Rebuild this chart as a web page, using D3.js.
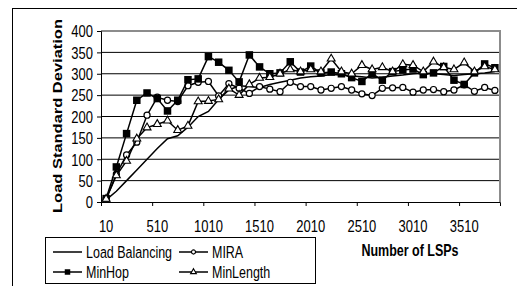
<!DOCTYPE html>
<html>
<head>
<meta charset="utf-8">
<script src="https://cdn.jsdelivr.net/npm/d3@7"></script>
<style>
  body { margin: 0; background: #fff; }
  svg { display: block; font-family: "Liberation Sans", Arial, sans-serif; }
</style>
</head>
<body>
<svg id="chart" width="517" height="286"></svg>
<script>
// data
var categories = [10, 110, 210, 310, 410, 510, 610, 710, 810, 910, 1010, 1110, 1210, 1310, 1410, 1510,
  1610, 1710, 1810, 1910, 2010, 2110, 2210, 2310, 2410, 2510, 2610, 2710, 2810, 2910, 3010, 3110,
  3210, 3310, 3410, 3510, 3610, 3710, 3810];
var xTickLabels = ["10", "510", "1010", "1510", "2010", "2510", "3010", "3510"];
var yTicks = [0, 50, 100, 150, 200, 250, 300, 350, 400];

var loadBalancing = [5, 25, 50, 75, 100, 125, 148, 155, 175, 200, 212, 240, 262, 272, 270, 268, 275, 280,
  285, 290, 293, 295, 298, 297, 295, 293, 290, 292, 295, 297, 300, 302, 300, 298, 296, 298, 300, 302, 305];
var mira = [7, 65, 110, 140, 203, 245, 238, 235, 272, 280, 282, 248, 277, 266, 254, 270, 264, 258, 280,
  270, 270, 262, 266, 270, 262, 253, 249, 266, 267, 268, 257, 262, 263, 258, 262, 274, 259, 268, 261];
var minHop = [8, 82, 160, 238, 255, 242, 213, 238, 286, 288, 340, 327, 308, 281, 344, 316, 300, 302, 328,
  304, 318, 302, 304, 300, 291, 282, 300, 285, 305, 309, 311, 298, 302, 317, 285, 275, 302, 323, 314];
var minLength = [7, 62, 96, 148, 174, 182, 190, 168, 178, 235, 236, 240, 265, 250, 275, 290, 292, 300, 310,
  305, 310, 305, 335, 305, 300, 320, 310, 315, 305, 322, 320, 305, 328, 315, 310, 326, 305, 317, 310];

var series = [
  {name: "Load Balancing", values: loadBalancing, marker: "none"},
  {name: "MIRA", values: mira, marker: "circle"},
  {name: "MinHop", values: minHop, marker: "square"},
  {name: "MinLength", values: minLength, marker: "triangle"}
];

var svg = d3.select("#chart");
var plotLeft = 101, plotRight = 500, plotTop = 31, plotBottom = 202;
var stretch = 1.25; // text in the picture is drawn a bit tall

var x = d3.scaleBand().domain(categories).range([plotLeft, plotRight]);
var xi = d3.scaleLinear().domain([0, categories.length]).range([plotLeft, plotRight]);
var y = d3.scaleLinear().domain([0, 400]).range([plotBottom, plotTop]);

// outer frame
svg.append("rect")
  .attr("x", 12.5).attr("y", 8.5).attr("width", 540).attr("height", 300)
  .attr("fill", "none").attr("stroke", "#000");

// gridlines
svg.append("g").selectAll("line")
  .data(yTicks.slice(1))
  .enter().append("line")
  .attr("x1", plotLeft).attr("x2", plotRight)
  .attr("y1", d => y(d)).attr("y2", d => y(d))
  .attr("stroke", "#000").attr("stroke-width", 1);

// plot area border, top and right are grey
svg.append("path")
  .attr("d", "M" + plotLeft + "," + plotTop + "H" + plotRight + "V" + plotBottom)
  .attr("fill", "none").attr("stroke", "#8c8c8c").attr("stroke-width", 2);

// y axis
var gy = svg.append("g")
  .attr("transform", "translate(" + plotLeft + ",0)")
  .call(d3.axisLeft(y).tickValues(yTicks).tickSize(4).tickPadding(4).tickFormat(d3.format("d")));
gy.select(".domain").attr("stroke", "#000");
gy.selectAll("text")
  .attr("font-size", 13).attr("font-family", null).attr("fill", "#000")
  .attr("dy", "0.36em")
  .attr("transform", "scale(1," + stretch + ")");

// x axis: tick marks on category boundaries, labels on category centres
var gx = svg.append("g")
  .attr("transform", "translate(0," + plotBottom + ")")
  .call(d3.axisBottom(xi).tickValues([0, 5, 10, 15, 20, 25, 30, 35]).tickSize(4).tickFormat(""));
gx.select(".domain").attr("stroke", "#000");

var gxl = svg.append("g")
  .attr("transform", "translate(0," + plotBottom + ")")
  .call(d3.axisBottom(x)
    .tickValues(categories.filter((c, i) => i % 5 === 0))
    .tickSize(0)
    .tickFormat((c, i) => xTickLabels[i]));
gxl.select(".domain").remove();
gxl.selectAll("text")
  .attr("font-size", 13).attr("font-family", null).attr("fill", "#000")
  .attr("y", 23.8).attr("dy", 0)
  .attr("transform", "scale(1," + stretch + ")");

// axis titles
var yTitle = svg.append("text")
  .attr("text-anchor", "middle")
  .attr("font-size", 13).attr("font-weight", "bold")
  .text("Load Standard Deviation");
// stretch the title so it runs from y=19 to y=213 like the picture
var yTitleLen = yTitle.node().getComputedTextLength();
yTitle.attr("transform", "translate(62,116) scale(1," + (194 / yTitleLen) + ") rotate(-90)");

svg.append("text")
  .attr("transform", "translate(410,256) scale(1," + stretch + ")")
  .attr("text-anchor", "middle")
  .attr("font-size", 12.5).attr("font-weight", "bold")
  .text("Number of LSPs");

// lines and markers
var line = d3.line()
  .x((d, i) => x(categories[i]) + x.bandwidth() / 2)
  .y(d => y(d));

function drawMarker(g, type, size) {
  if (type === "square") {
    g.append("rect")
      .attr("x", -size / 2).attr("y", -size / 2).attr("width", size).attr("height", size)
      .attr("fill", "#000");
  } else if (type === "circle") {
    g.append("circle").attr("r", size / 2 - 0.7)
      .attr("fill", "#fff").attr("stroke", "#000").attr("stroke-width", 1.2);
  } else if (type === "triangle") {
    g.append("path")
      .attr("d", d3.symbol(d3.symbolTriangle, size * size * 0.48)())
      .attr("fill", "#fff").attr("stroke", "#000").attr("stroke-width", 1.1);
  }
}

series.forEach(function(s) {
  svg.append("path")
    .datum(s.values)
    .attr("d", line)
    .attr("fill", "none")
    .attr("stroke", "#000")
    .attr("stroke-width", 1.5);
  if (s.marker === "none") return;
  svg.append("g").selectAll("g")
    .data(s.values)
    .enter().append("g")
    .attr("transform", (d, i) => "translate(" + (x(categories[i]) + x.bandwidth() / 2) + "," + y(d) + ")")
    .each(function() { drawMarker(d3.select(this), s.marker, 7.5); });
});

// legend
var legend = svg.append("g");
legend.append("rect")
  .attr("x", 45.5).attr("y", 237.5).attr("width", 270).attr("height", 46)
  .attr("fill", "#fff").attr("stroke", "#000");

var legendPos = [[53, 252], [179, 252], [53, 272], [179, 272]];
series.forEach(function(s, i) {
  var p = legendPos[i];
  var g = legend.append("g").attr("transform", "translate(" + p[0] + "," + p[1] + ")");
  g.append("line").attr("x1", 0).attr("x2", 29)
    .attr("stroke", "#000").attr("stroke-width", 1.5);
  if (s.marker !== "none") {
    var m = g.append("g").attr("transform", "translate(14.5,0)");
    drawMarker(m, s.marker, 5.5);
  }
  g.append("text")
    .attr("transform", "translate(33,5.6) scale(1," + stretch + ")")
    .attr("font-size", 12.5)
    .text(s.name);
});
</script>
</body>
</html>
